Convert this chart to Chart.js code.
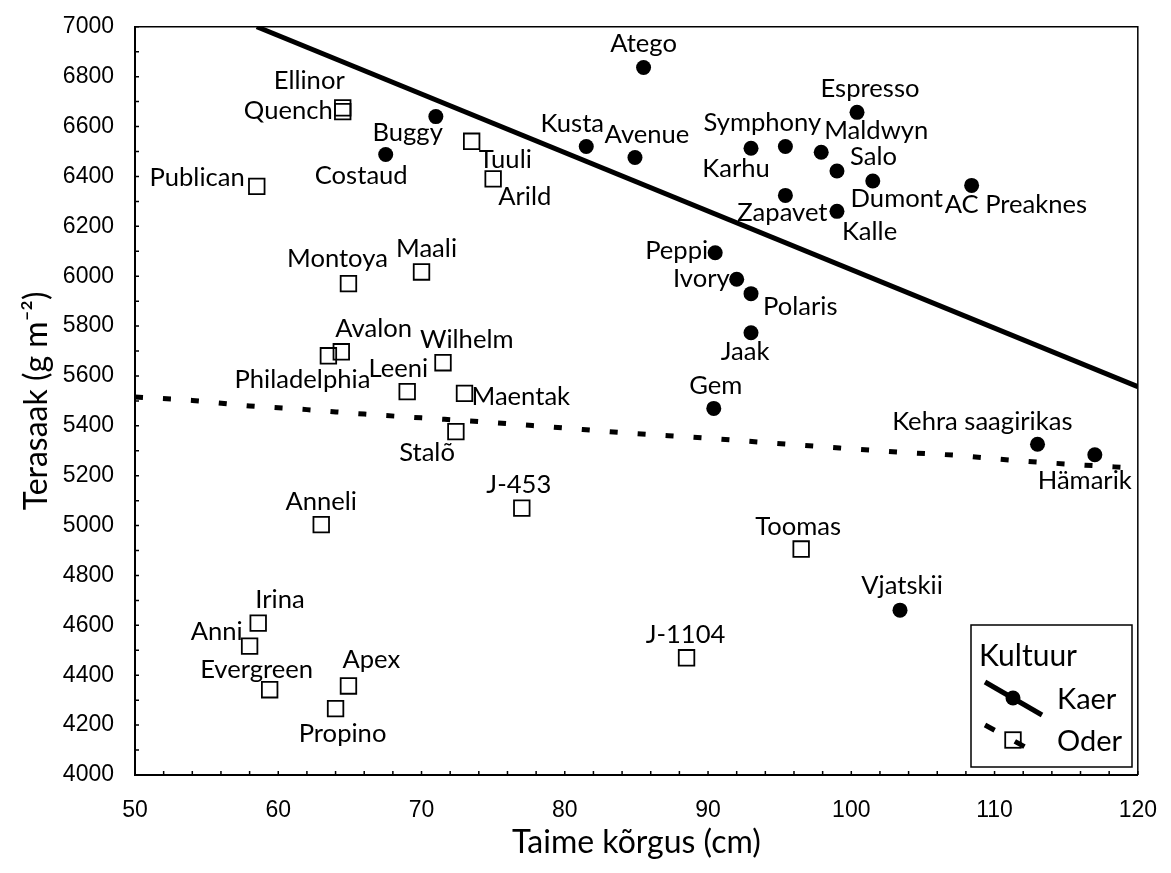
<!DOCTYPE html>
<html>
<head>
<meta charset="utf-8">
<script src="https://cdn.jsdelivr.net/npm/chart.js@4.4.1/dist/chart.umd.min.js"></script>
<style>
  body { margin: 0; background: #fff; }
</style>
</head>
<body>
<canvas id="chart" width="1171" height="873"></canvas>
<script>
// Kaer (oats)
var kaerNames = ["Atego", "Espresso", "Kusta", "Avenue", "Symphony", "Karhu", "Maldwyn", "Salo", "Dumont", "AC Preaknes",
  "Zapavet", "Kalle", "Peppi", "Ivory", "Polaris", "Jaak", "Gem", "Kehra saagirikas", "Hämarik", "Vjatskii", "Buggy", "Costaud"];
var kaerHeight = [85.5, 100.4, 81.5, 84.9, 95.4, 93.0, 97.9, 99.0, 101.5, 108.4,
  95.4, 99.0, 90.5, 92.0, 93.0, 93.0, 90.4, 113.0, 117.0, 103.4, 71.0, 67.5];
var kaerYield = [6837, 6657, 6520, 6476, 6520, 6513, 6497, 6422, 6382, 6364,
  6324, 6260, 6094, 5988, 5930, 5773, 5470, 5326, 5284, 4661, 6640, 6488];

// Oder (barley)
var oderNames = ["Ellinor", "Quench", "Tuuli", "Arild", "Publican", "Montoya", "Maali", "Avalon", "Philadelphia", "Wilhelm",
  "Leeni", "Maentak", "Stalõ", "Anneli", "J-453", "Toomas", "J-1104", "Irina", "Anni", "Evergreen", "Apex", "Propino"];
var oderHeight = [64.5, 64.5, 73.5, 75.0, 58.5, 64.9, 70.0, 64.4, 63.5, 71.5,
  69.0, 73.0, 72.4, 63.0, 77.0, 96.5, 88.5, 58.6, 58.0, 59.4, 64.9, 64.0];
var oderYield = [6675, 6660, 6541, 6390, 6360, 5970, 6017, 5697, 5681, 5653,
  5537, 5530, 5377, 5004, 5070, 4906, 4470, 4609, 4517, 4342, 4357, 4266];

// fitted trends
var kaerFitX = [58.5, 120];
var kaerFitY = [7000, 5557];
var oderFitX = [50, 54, 58, 62, 66, 70, 74, 78, 84, 90, 94, 98, 103.5, 107.5, 111, 115, 120];
var oderFitY = [5516, 5502, 5480, 5465, 5447, 5432, 5417, 5400, 5373, 5350, 5333, 5316, 5294, 5281, 5263, 5247, 5230];

// label placement (dx, dy in px, align)
var kaerLabelPos = [[0,-24,"c"],[13,-24,"c"],[-14,-23,"c"],[12,-23,"c"],[-23,-24,"c"],[-15,20,"c"],[3,-22,"l"],[13,-14,"l"],[24,18,"c"],[-27,19,"l"],
  [-3,17,"c"],[5,20,"l"],[-7,-2,"r"],[-7,0,"r"],[12,13,"l"],[-6,19,"c"],[2,-23,"c"],[35,-23,"r"],[37,26,"r"],[2,-24,"c"],[7,16,"r"],[22,21,"r"]];
var oderLabelPos = [[2,-27,"r"],[-10,-1,"r"],[7,18,"l"],[5,18,"l"],[-12,-9,"r"],[-11,-25,"c"],[5,-23,"c"],[-6,-23,"l"],[42,24,"r"],[-23,-23,"l"],
  [21,-23,"r"],[7,3,"l"],[-1,21,"r"],[0,-23,"c"],[-3,-23,"c"],[-3,-22,"c"],[-1,-23,"c"],[-3,-23,"l"],[-7,-14,"r"],[-13,-20,"c"],[-6,-26,"l"],[7,25,"c"]];

function pts(xs, ys) {
  return xs.map(function (x, i) { return {x: x, y: ys[i]}; });
}

var labelFont = "25.6px Lato";

var pointLabels = {
  id: "pointLabels",
  afterDatasetsDraw: function (chart) {
    var ctx = chart.ctx;
    ctx.save();
    ctx.font = labelFont;
    ctx.fillStyle = "#000";
    ctx.textBaseline = "middle";
    chart.data.datasets.forEach(function (ds, di) {
      if (!ds.names) return;
      var meta = chart.getDatasetMeta(di);
      meta.data.forEach(function (el, i) {
        var p = ds.labelPos[i];
        ctx.textAlign = p[2] === "l" ? "left" : (p[2] === "r" ? "right" : "center");
        ctx.fillText(ds.names[i], el.x + p[0], el.y + p[1]);
      });
    });
    ctx.restore();
  }
};

// inward tick marks, plot frame and the legend box
var frame = {
  id: "frame",
  afterDraw: function (chart) {
    var ctx = chart.ctx, a = chart.chartArea;
    var xs = chart.scales.x, ys = chart.scales.y;
    ctx.save();
    ctx.strokeStyle = "#000";
    ctx.lineWidth = 1.5;
    ctx.beginPath();
    xs.ticks.forEach(function (t) {
      var px = xs.getPixelForValue(t.value);
      ctx.moveTo(px, a.bottom); ctx.lineTo(px, a.bottom - 4);
    });
    ys.ticks.forEach(function (t) {
      var py = ys.getPixelForValue(t.value);
      ctx.moveTo(a.left, py); ctx.lineTo(a.left + 4, py);
    });
    ctx.stroke();
    ctx.beginPath();
    ctx.moveTo(a.left, a.top); ctx.lineTo(a.right, a.top); ctx.lineTo(a.right, a.bottom);
    ctx.stroke();

    // legend
    var kaer = chart.data.datasets[0], oder = chart.data.datasets[1];
    var kfit = chart.data.datasets[2], ofit = chart.data.datasets[3];
    ctx.fillStyle = "#fff";
    ctx.fillRect(971, 625, 161, 142);
    ctx.lineWidth = 1.5;
    ctx.strokeRect(971, 625, 161, 142);
    ctx.fillStyle = "#000";
    ctx.textBaseline = "middle";
    ctx.textAlign = "left";
    ctx.font = "30px Lato";
    ctx.fillText("Kultuur", 979, 656);
    ctx.font = "29px Lato";
    ctx.fillText(kaer.label, 1057, 700);
    ctx.fillText(oder.label, 1057, 742);

    ctx.strokeStyle = kfit.borderColor;
    ctx.lineWidth = kfit.borderWidth;
    ctx.beginPath(); ctx.moveTo(985, 682); ctx.lineTo(1042, 715); ctx.stroke();
    ctx.fillStyle = kaer.backgroundColor;
    ctx.beginPath(); ctx.arc(1013, 698, kaer.pointRadius, 0, Math.PI * 2); ctx.fill();

    ctx.fillStyle = "#fff";
    ctx.strokeStyle = oder.borderColor;
    ctx.lineWidth = oder.borderWidth;
    var s = oder.pointRadius * Math.SQRT1_2;
    ctx.fillRect(1013 - s, 740 - s, 2 * s, 2 * s);
    ctx.strokeRect(1013 - s, 740 - s, 2 * s, 2 * s);
    ctx.strokeStyle = ofit.borderColor;
    ctx.lineWidth = ofit.borderWidth;
    ctx.setLineDash([11, 23]);
    ctx.beginPath(); ctx.moveTo(985, 725); ctx.lineTo(1027, 748); ctx.stroke();
    ctx.restore();
  }
};

var tickFont = {family: "'Liberation Sans', Arial", size: 23};
var titleFont = {family: "Lato", size: 32};

new Chart("chart", {
  type: "scatter",
  data: {
    datasets: [
      {
        label: "Kaer",
        data: pts(kaerHeight, kaerYield),
        names: kaerNames,
        labelPos: kaerLabelPos,
        pointStyle: "circle",
        pointRadius: 7.5,
        backgroundColor: "#000",
        borderColor: "#000",
        borderWidth: 0,
        order: 1
      },
      {
        label: "Oder",
        data: pts(oderHeight, oderYield),
        names: oderNames,
        labelPos: oderLabelPos,
        pointStyle: "rect",
        pointRadius: 11,
        backgroundColor: "rgba(255,255,255,0)",
        borderColor: "#000",
        borderWidth: 1.8,
        order: 1
      },
      {
        label: "Kaer trend",
        data: pts(kaerFitX, kaerFitY),
        showLine: true,
        pointRadius: 0,
        borderColor: "#000",
        borderWidth: 5,
        order: 2
      },
      {
        label: "Oder trend",
        data: pts(oderFitX, oderFitY),
        showLine: true,
        pointRadius: 0,
        borderColor: "#000",
        borderWidth: 5,
        borderDash: [8, 20],
        cubicInterpolationMode: "monotone",
        order: 2
      }
    ]
  },
  options: {
    responsive: false,
    animation: false,
    events: [],
    layout: {padding: {top: 24, right: 28, left: 0, bottom: 0}},
    plugins: {
      legend: {display: false},
      tooltip: {enabled: false}
    },
    scales: {
      x: {
        type: "linear",
        min: 50,
        max: 120,
        afterFit: function (s) { s.height = 98; },
        grid: {display: false},
        border: {display: true, color: "#000", width: 2},
        ticks: {
          stepSize: 2,
          autoSkip: false,
          maxRotation: 0,
          padding: 14,
          color: "#000",
          font: tickFont,
          callback: function (v) { return v % 10 === 0 ? v : ""; }
        },
        title: {display: true, text: "Taime kõrgus (cm)", color: "#000", font: titleFont, padding: {top: 0, bottom: 11}}
      },
      y: {
        type: "linear",
        min: 4000,
        max: 7000,
        afterFit: function (s) { s.width = 135; },
        grid: {display: false},
        border: {display: true, color: "#000", width: 2},
        ticks: {
          stepSize: 100,
          autoSkip: false,
          padding: 13,
          color: "#000",
          font: tickFont,
          callback: function (v) { return v % 200 === 0 ? v : ""; }
        },
        title: {display: true, text: "Terasaak (g m⁻²)", color: "#000", font: titleFont, padding: {top: 17, bottom: 0}}
      }
    }
  },
  plugins: [pointLabels, frame]
});
</script>
</body>
</html>
